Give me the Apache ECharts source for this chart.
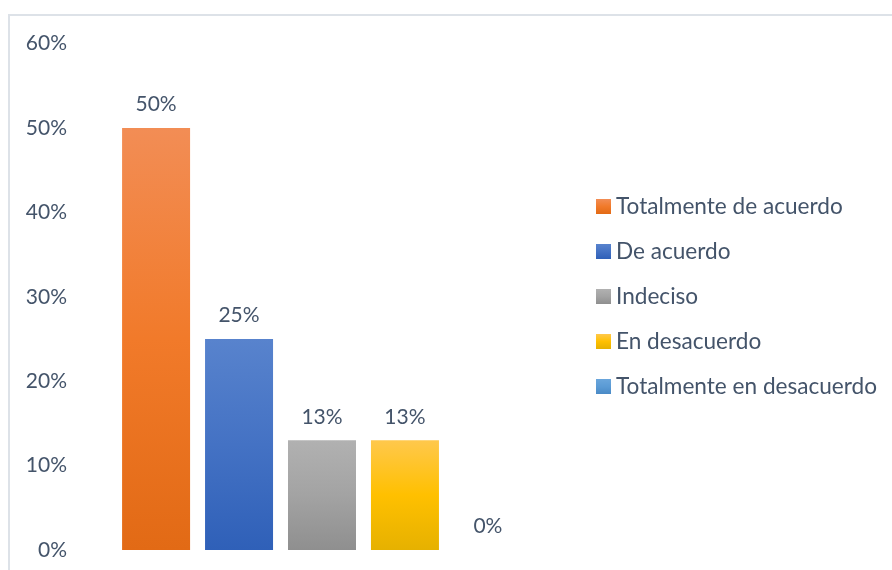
<!DOCTYPE html>
<html>
<head>
<meta charset="utf-8">
<script src="https://cdn.jsdelivr.net/npm/echarts@6/dist/echarts.min.js"></script>
<style>
  html, body { margin: 0; padding: 0; background: #ffffff; }
  #chart { width: 892px; height: 570px; }
</style>
</head>
<body>
<div id="chart"></div>
<script>
// Survey response shares (percent)
const categories = ['Totalmente de acuerdo', 'De acuerdo', 'Indeciso', 'En desacuerdo', 'Totalmente en desacuerdo'];
const values = [50, 25, 13, 13, 0];
const yTicks = [0, 10, 20, 30, 40, 50, 60];

// Vertical gradient stops per category: top, middle, bottom
const gradients = [
  ['#f28d55', '#f17a2a', '#e26a15'],
  ['#5883cd', '#4472c4', '#2f60b8'],
  ['#b1b1b1', '#a3a3a3', '#8f8f8f'],
  ['#ffc84c', '#ffc000', '#e6b100'],
  ['#6aa6dc', '#5b9bd5', '#4a8ac6']
];

function grad(c) {
  return new echarts.graphic.LinearGradient(0, 0, 0, 1, [
    { offset: 0, color: c[0] },
    { offset: 0.5, color: c[1] },
    { offset: 1, color: c[2] }
  ]);
}

const textColor = '#44546a';
const fontFamily = 'Lato, "Noto Sans", sans-serif';

const series = categories.map((name, i) => ({
  name: name,
  type: 'bar',
  data: [values[i]],
  barWidth: 68,
  barGap: '22%',
  itemStyle: { color: grad(gradients[i]) },
  label: {
    show: true,
    position: 'top',
    distance: 13,
    color: textColor,
    fontSize: 21,
    fontFamily: fontFamily,
    formatter: p => p.value + '%'
  }
}));

const chart = echarts.init(document.getElementById('chart'), null, { renderer: 'canvas' });
chart.setOption({
  animation: false,
  backgroundColor: '#ffffff',
  graphic: [{
    type: 'rect',
    shape: { x: 9, y: 15, width: 1000, height: 1000 },
    style: { fill: 'none', stroke: '#dde2e8', lineWidth: 2 },
    silent: true,
    z: -10
  }],
  grid: { left: 75, right: 323, top: 43.6, bottom: 20 },
  legend: {
    orient: 'vertical',
    left: 596,
    top: 195,
    padding: 0,
    itemWidth: 15,
    itemHeight: 15,
    itemGap: 22,
    icon: 'rect',
    textStyle: { color: textColor, fontSize: 22.6, lineHeight: 22, fontFamily: fontFamily },
    data: categories
  },
  xAxis: {
    type: 'category',
    data: [''],
    axisLine: { show: false },
    axisTick: { show: false },
    axisLabel: { show: false }
  },
  yAxis: {
    type: 'value',
    min: yTicks[0],
    max: yTicks[yTicks.length - 1],
    interval: 10,
    axisLine: { show: false },
    axisTick: { show: false },
    splitLine: { show: false },
    axisLabel: {
      color: textColor,
      fontSize: 21,
      fontFamily: fontFamily,
      margin: 8,
      formatter: v => v + '%'
    }
  },
  series: series
});
</script>
</body>
</html>
